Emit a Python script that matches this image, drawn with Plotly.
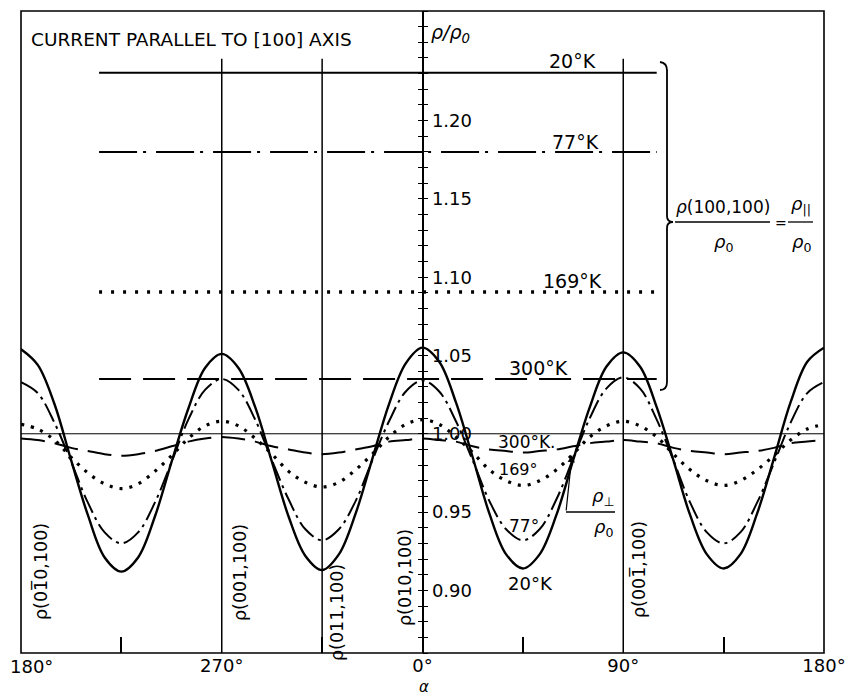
import plotly.graph_objects as go

# ---------------- data ----------------
angles = [180, 187.5, 195, 202.5, 210, 217.5, 225, 232.5, 240, 247.5, 255, 262.5, 270,
          277.5, 285, 292.5, 300, 307.5, 315, 322.5, 330, 337.5, 345, 352.5, 360,
          367.5, 375, 382.5, 390, 397.5, 405, 412.5, 420, 427.5, 435, 442.5, 450,
          457.5, 465, 472.5, 480, 487.5, 495, 502.5, 510, 517.5, 525, 532.5, 540]

rho_perp_20K = [1.054, 1.044, 1.019, 0.983, 0.948, 0.921, 0.912, 0.921, 0.947, 0.982, 1.016, 1.042, 1.051,
                1.042, 1.017, 0.982, 0.947, 0.922, 0.913, 0.923, 0.949, 0.984, 1.019, 1.045, 1.055,
                1.046, 1.020, 0.985, 0.949, 0.923, 0.914, 0.923, 0.948, 0.983, 1.017, 1.043, 1.052,
                1.043, 1.017, 0.983, 0.948, 0.923, 0.914, 0.923, 0.949, 0.984, 1.020, 1.046, 1.055]
rho_perp_77K = [1.033, 1.026, 1.007, 0.982, 0.956, 0.937, 0.930, 0.937, 0.956, 0.982, 1.009, 1.028, 1.035,
                1.028, 1.009, 0.983, 0.958, 0.939, 0.932, 0.939, 0.957, 0.983, 1.008, 1.027, 1.034,
                1.027, 1.008, 0.983, 0.957, 0.939, 0.932, 0.939, 0.958, 0.984, 1.010, 1.029, 1.036,
                1.029, 1.009, 0.983, 0.956, 0.937, 0.930, 0.937, 0.956, 0.981, 1.007, 1.026, 1.033]
rho_perp_169K = [1.006, 1.003, 0.996, 0.985, 0.975, 0.968, 0.965, 0.968, 0.976, 0.986, 0.997, 1.005, 1.008,
                 1.005, 0.997, 0.987, 0.976, 0.969, 0.966, 0.969, 0.977, 0.987, 0.998, 1.006, 1.009,
                 1.006, 0.998, 0.988, 0.977, 0.970, 0.967, 0.970, 0.977, 0.987, 0.998, 1.005, 1.008,
                 1.005, 0.998, 0.987, 0.977, 0.970, 0.967, 0.970, 0.977, 0.986, 0.996, 1.003, 1.006]
rho_perp_300K = [0.997, 0.996, 0.994, 0.991, 0.989, 0.987, 0.986, 0.987, 0.989, 0.992, 0.995, 0.997, 0.998,
                 0.997, 0.995, 0.992, 0.990, 0.988, 0.987, 0.988, 0.990, 0.992, 0.995, 0.996, 0.997,
                 0.996, 0.995, 0.992, 0.990, 0.989, 0.988, 0.989, 0.990, 0.992, 0.994, 0.995, 0.996,
                 0.995, 0.994, 0.991, 0.989, 0.988, 0.987, 0.988, 0.989, 0.991, 0.994, 0.995, 0.996]

temperatures = ["20°K", "77°K", "169°K", "300°K"]
rho_par = [1.2305, 1.180, 1.0905, 1.035]          # rho(100,100)/rho0
par_angle_span = [215, 465]

x_tick_vals = [180, 270, 360, 450, 540]
x_tick_text = ["180°", "270°", "0°", "90°", "180°"]
x_minor_vals = [225, 315, 405, 495]
y_tick_vals = [0.90, 0.95, 1.00, 1.05, 1.10, 1.15, 1.20]
ref_line_angles = [270, 315, 450]
ref_line_top = 1.2395
orientation_labels = ["ρ(01\u03050,100)", "ρ(001,100)", "ρ(011,100)", "ρ(010,100)", "ρ(001\u0305,100)"]

# ---------------- layout helpers ----------------
# the page body adds an 8 px margin around the figure
OFF = 8
W, H = 846, 688
ML, MR, MT, MB = 13, 30, 3, 43
X0, X1 = 180, 540
Y0, Y1 = 0.86, 1.27
PW, PH = W - ML - MR, H - MT - MB
PLOT_LEFT = OFF + ML
PLOT_BOTTOM = OFF + H - MB


def dx(px):
    return X0 + (px - PLOT_LEFT) / PW * (X1 - X0)


def dy(py):
    return Y0 + (PLOT_BOTTOM - py) / PH * (Y1 - Y0)


def fx(px):
    return (px - PLOT_LEFT) / PW


def fy(py):
    return (PLOT_BOTTOM - py) / PH


FONT = "DejaVu Sans"
BLACK = "black"

styles = [
    dict(curve=dict(width=2.4, dash="solid"), par=dict(width=2.0, dash="solid")),
    dict(curve=dict(width=2.0, dash="20px,5px,3px,5px"), par=dict(width=2.0, dash="38px,6px,3px,10px")),
    dict(curve=dict(width=3.2, dash="3px,7px"), par=dict(width=3.4, dash="3px,9px")),
    dict(curve=dict(width=2.0, dash="24px,10px"), par=dict(width=2.0, dash="32px,12px")),
]

fig = go.Figure()

curves = [rho_perp_20K, rho_perp_77K, rho_perp_169K, rho_perp_300K]
for i, (name, ys) in enumerate(zip(temperatures, curves)):
    fig.add_trace(go.Scatter(
        x=angles, y=ys, mode="lines", name=name,
        line=dict(color=BLACK, shape="spline", smoothing=1.0, **styles[i]["curve"]),
        yaxis="y2" if i == 3 else "y", hoverinfo="skip"))
    fig.add_trace(go.Scatter(
        x=par_angle_span, y=[rho_par[i], rho_par[i]], mode="lines",
        line=dict(color=BLACK, **styles[i]["par"]), hoverinfo="skip"))

shapes = []
# frame
shapes.append(dict(type="rect", xref="paper", yref="paper", x0=0, x1=1, y0=0, y1=1,
                   line=dict(color=BLACK, width=1.6)))
# 1.00 reference line
shapes.append(dict(type="line", xref="paper", yref="y", x0=0, x1=1, y0=1.0, y1=1.0,
                   line=dict(color=BLACK, width=1.0)))
# crystal-direction vertical lines
for a in ref_line_angles:
    shapes.append(dict(type="line", xref="x", yref="y", x0=a, x1=a, y0=Y0, y1=ref_line_top,
                       line=dict(color=BLACK, width=1.5)))

# brace for the parallel lines
pts = [(660, 62), (667, 63), (667, 70), (667, 216), (667, 222), (673, 222),
       (667, 222), (667, 228), (667, 382), (667, 390), (660, 390)]
p = [(dx(a), dy(b)) for a, b in pts]
path = (f"M {p[0][0]},{p[0][1]} Q {p[1][0]},{p[1][1]} {p[2][0]},{p[2][1]} "
        f"L {p[3][0]},{p[3][1]} Q {p[4][0]},{p[4][1]} {p[5][0]},{p[5][1]} "
        f"Q {p[6][0]},{p[6][1]} {p[7][0]},{p[7][1]} "
        f"L {p[8][0]},{p[8][1]} Q {p[9][0]},{p[9][1]} {p[10][0]},{p[10][1]}")
shapes.append(dict(type="path", xref="x", yref="y", path=path, line=dict(color=BLACK, width=1.8)))

# fraction bars
for (xa, xb, yy) in [(675, 770, 222), (788, 813, 222), (566, 615, 512)]:
    shapes.append(dict(type="line", xref="x", yref="y", x0=dx(xa), x1=dx(xb), y0=dy(yy), y1=dy(yy),
                       line=dict(color=BLACK, width=1.3)))

ann = []


def txt(px, py, s, size=16, xanchor="center", angle=0):
    ann.append(dict(x=fx(px), y=fy(py), xref="paper", yref="paper", text=s, showarrow=False,
                    xanchor=xanchor, yanchor="middle", textangle=angle,
                    font=dict(family=FONT, size=size, color=BLACK)))


txt(29, 40, "CURRENT PARALLEL TO [100] AXIS", size=18.5, xanchor="left")
txt(429, 34, "<i>ρ/ρ<sub>0</sub></i>", size=19, xanchor="left")
# parallel labels
txt(572, 61, temperatures[0], size=19)
txt(575, 142, temperatures[1], size=19)
txt(572, 281, temperatures[2], size=19)
txt(538, 368, temperatures[3], size=19)
# perpendicular curve labels
txt(527, 442, "300°K.", size=17)
txt(518, 469, "169°", size=16)
txt(524, 526, "77°", size=17)
txt(530, 583, "20°K", size=18)
# rho_par fraction
txt(723, 207, "<i>ρ</i>(100,100)", size=17)
txt(723, 243, "<i>ρ</i><sub>0</sub>", size=18)
txt(781, 223, "=", size=14)
txt(801, 205, "<i>ρ</i><sub>||</sub>", size=18)
txt(801, 243, "<i>ρ</i><sub>0</sub>", size=18)
# rho_perp fraction
txt(603, 497, "<i>ρ</i><sub>⊥</sub>", size=18)
txt(603, 528, "<i>ρ</i><sub>0</sub>", size=18)
ann.append(dict(x=dx(572), y=dy(455), ax=dx(566), ay=dy(512), xref="x", yref="y", axref="x", ayref="y",
                text="", showarrow=True, arrowhead=2, arrowsize=1.2, arrowwidth=1.2, arrowcolor=BLACK))
# orientation labels (rotated)
for (px, py), s in zip([(40, 572), (240, 572), (337, 613), (405, 578), (638, 570)], orientation_labels):
    txt(px, py, s, size=17.5, angle=-90)
# left-edge angle label (kept inside the page) and x-axis title
txt(31, 666, x_tick_text[0], size=18)
txt(424, 687, "<i>α</i>", size=15)

fig.update_layout(
    width=W, height=H, margin=dict(l=ML, r=MR, t=MT, b=MB, autoexpand=False),
    paper_bgcolor="white", plot_bgcolor="white", showlegend=False,
    font=dict(family=FONT, size=16, color=BLACK),
    shapes=shapes, annotations=ann,
    xaxis=dict(range=[X0, X1], tickmode="array", tickvals=x_tick_vals[1:], ticktext=x_tick_text[1:],
               ticks="", showgrid=False, zeroline=False, showline=False, automargin=False,
               ticklabeloverflow="allow", ticklabelstandoff=0,
               tickfont=dict(family=FONT, size=18, color=BLACK),
               minor=dict(tickmode="array", tickvals=x_minor_vals, ticks="inside", ticklen=16,
                          tickwidth=1.5, tickcolor=BLACK, showgrid=False)),
    yaxis=dict(range=[Y0, Y1], anchor="free", position=0.5, side="right", automargin=False,
               tickmode="array", tickvals=y_tick_vals, tickformat=".2f",
               ticks="outside", ticklen=5, tickwidth=1.3, tickcolor=BLACK,
               showline=True, linecolor=BLACK, linewidth=1.6,
               showgrid=False, zeroline=False,
               tickfont=dict(family=FONT, size=18, color=BLACK),
               minor=dict(dtick=0.01, tick0=0.86, ticks="outside", ticklen=5, tickwidth=1.3,
                          tickcolor=BLACK, showgrid=False)),
    yaxis2=dict(range=[Y0, Y1], overlaying="y", anchor="free", position=0.5, side="right",
                automargin=False,
                tickmode="array", tickvals=y_tick_vals, showticklabels=False,
                ticks="inside", ticklen=5, tickwidth=1.3, tickcolor=BLACK,
                showline=False, showgrid=False, zeroline=False,
                minor=dict(dtick=0.01, tick0=0.86, ticks="inside", ticklen=5, tickwidth=1.3,
                           tickcolor=BLACK, showgrid=False)),
)

fig.write_html("out.html")
